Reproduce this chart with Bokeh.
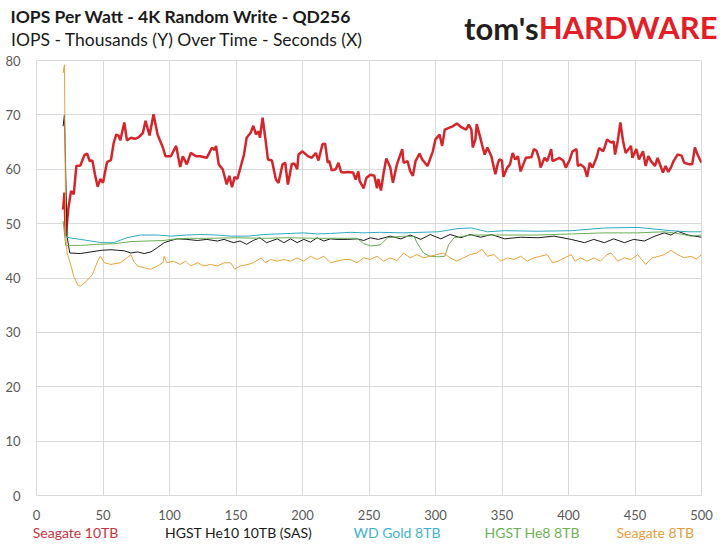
from bokeh.plotting import figure
from bokeh.layouts import column
from bokeh.models import Label, Range1d, FixedTicker
from bokeh.embed import file_html
from bokeh.resources import INLINE

# --- data (seconds, IOPS thousands) ---
seagate10_t = [20, 21, 22, 24, 26, 28, 30, 33, 36, 38, 40, 42, 44, 46, 48, 50, 53, 56, 58, 60,
               62, 63, 66, 68, 71, 74, 77, 80, 82, 85, 88, 91, 95, 97, 101, 105, 108, 110, 113, 116,
               120, 123, 128, 132, 134, 135, 137, 140, 143, 145, 147, 149, 151, 155, 156, 158, 161, 163, 165, 167,
               168, 170, 172, 174, 177, 180, 182, 185, 187, 189, 192, 194, 196, 197, 200, 204, 207, 210, 212, 215,
               217, 219, 220, 222, 225, 227, 229, 231, 234, 238, 240, 242, 243, 246, 248, 251, 254, 256, 257, 259,
               261, 263, 266, 268, 271, 275, 276, 279, 281, 283, 285, 288, 290, 294, 298, 300, 303, 305, 307, 310,
               313, 316, 319, 323, 325, 327, 328, 330, 331, 334, 335, 337, 339, 342, 345, 347, 348, 350, 351, 354,
               356, 358, 360, 362, 364, 366, 368, 372, 374, 376, 378, 379, 382, 384, 387, 388, 391, 393, 396, 398,
               401, 403, 406, 407, 409, 412, 414, 416, 418, 421, 423, 426, 427, 429, 432, 434, 435, 437, 439, 441,
               443, 444, 447, 448, 451, 453, 456, 458, 460, 462, 465, 467, 471, 473, 475, 477, 479, 482, 485, 487,
               491, 493, 495, 497, 500]
seagate10_v = [52.6, 55.7, 47.7, 52.9, 56.0, 55.4, 60.6, 60.7, 62.6, 62.9, 61.5, 61.6, 59.0, 56.8, 58.2, 57.5, 61.3, 61.7, 64.8, 66.4,
               66.1, 65.3, 68.6, 65.3, 65.8, 65.6, 65.9, 66.7, 68.9, 66.2, 70.1, 66.4, 64.0, 62.4, 62.4, 64.3, 60.4, 62.4, 60.9, 63.0,
               62.4, 62.4, 62.1, 64.0, 63.5, 64.3, 60.9, 60.0, 57.2, 58.8, 56.7, 58.6, 58.2, 61.8, 62.7, 65.8, 66.7, 68.0, 66.4, 67.0,
               65.8, 69.5, 65.8, 61.8, 61.6, 58.1, 57.5, 60.9, 61.2, 57.2, 61.0, 61.0, 60.0, 62.7, 63.3, 62.4, 62.1, 63.0, 61.6, 64.6,
               64.7, 61.2, 61.6, 59.8, 60.0, 61.2, 59.5, 59.4, 59.5, 59.4, 58.1, 59.6, 57.8, 56.5, 58.4, 59.0, 58.8, 56.5, 58.2, 56.1,
               59.3, 62.0, 60.3, 57.5, 60.9, 63.7, 61.2, 61.5, 59.6, 58.8, 61.5, 62.9, 61.8, 60.6, 63.3, 65.5, 66.4, 64.3, 67.3, 67.6,
               67.9, 68.4, 67.8, 67.3, 68.2, 67.3, 64.0, 65.5, 68.3, 65.5, 64.5, 62.7, 64.0, 62.4, 59.1, 61.2, 61.8, 61.6, 58.6, 60.3,
               60.9, 63.0, 61.8, 62.4, 59.6, 60.9, 62.1, 62.2, 63.7, 63.4, 61.8, 60.3, 62.1, 61.5, 63.7, 61.5, 61.8, 62.1, 61.6, 60.3,
               61.8, 63.3, 63.7, 60.6, 60.9, 60.3, 58.6, 61.2, 60.3, 62.1, 63.9, 63.3, 63.9, 65.5, 64.9, 65.1, 62.7, 65.2, 68.6, 65.2,
               63.0, 63.3, 64.3, 62.1, 63.7, 61.8, 63.3, 60.6, 62.4, 61.5, 60.6, 62.1, 59.4, 60.6, 59.5, 60.3, 61.5, 62.7, 62.5, 61.2,
               60.9, 60.9, 64.0, 62.7, 61.2]

he10_t = [20, 21, 23, 25, 33, 41, 49, 56, 61, 66, 71, 76, 81, 86, 91, 96, 101, 106, 113, 121,
          128, 136, 141, 148, 153, 158, 163, 168, 173, 181, 186, 191, 196, 201, 206, 211, 216, 221, 226, 234,
          241, 246, 251, 257, 266, 274, 281, 289, 296, 304, 311, 319, 326, 334, 342, 352, 364, 377, 389, 402,
          412, 419, 427, 434, 442, 449, 457, 465, 472, 477, 482, 490, 500]
he10_v = [67.9, 70.0, 47.7, 44.6, 44.5, 44.8, 45.1, 45.2, 45.1, 45.0, 44.6, 44.8, 44.5, 44.8, 45.6, 46.5, 46.9, 47.2, 47.1, 46.9,
          47.1, 46.8, 47.1, 46.5, 46.8, 46.2, 46.9, 47.4, 46.5, 47.2, 46.5, 47.2, 46.5, 47.1, 46.6, 47.4, 46.8, 47.2, 47.1, 47.1,
          47.2, 46.9, 47.4, 47.1, 47.7, 47.2, 47.9, 47.1, 48.0, 47.2, 48.0, 47.4, 48.0, 47.5, 48.0, 47.2, 47.5, 47.4, 47.7, 47.1,
          46.5, 47.1, 46.5, 47.2, 46.5, 47.1, 46.8, 47.7, 48.3, 47.9, 48.6, 47.9, 47.5]

wdgold_t = [22, 33, 41, 49, 58, 68, 78, 91, 101, 113, 123, 136, 146, 159, 171, 181, 191, 201, 211, 221,
            236, 246, 258, 276, 302, 317, 327, 339, 352, 377, 402, 427, 452, 465, 477, 490, 500]
wdgold_v = [47.5, 47.1, 46.8, 46.5, 46.5, 47.4, 47.9, 47.9, 47.7, 47.9, 48.0, 47.9, 47.7, 47.7, 48.0, 48.1, 48.2, 48.3, 48.1, 48.2,
            48.4, 48.3, 48.4, 48.3, 48.5, 49.1, 49.2, 48.5, 48.7, 48.6, 48.7, 49.2, 49.3, 49.0, 48.7, 48.5, 48.5]

he8_t = [20, 22, 33, 47, 58, 71, 83, 96, 101, 115, 130, 150, 170, 190, 210, 230, 241, 246, 251, 256,
         259, 264, 276, 284, 286, 291, 296, 302, 307, 310, 314, 327, 352, 377, 402, 427, 452, 472, 482, 492,
         500]
he8_v = [50.5, 46.0, 46.0, 46.2, 46.3, 46.7, 46.8, 46.9, 47.1, 47.3, 47.3, 47.4, 47.3, 47.4, 47.3, 47.3, 47.3, 46.3, 45.9, 46.0,
         46.2, 47.4, 47.7, 47.6, 46.5, 44.6, 44.0, 43.9, 44.0, 46.2, 47.4, 47.9, 47.9, 47.9, 48.1, 48.3, 48.3, 48.5, 48.2, 47.7,
         47.9]

seagate8_t = [20, 21, 22, 23, 26, 28, 31, 33, 37, 42, 46, 48, 51, 56, 63, 68, 71, 73, 76, 81,
              86, 91, 95, 96, 98, 103, 108, 112, 116, 121, 126, 131, 136, 141, 146, 149, 153, 159, 163, 169,
              172, 176, 181, 186, 191, 196, 201, 206, 211, 216, 221, 226, 231, 236, 241, 246, 251, 256, 261, 266,
              271, 276, 281, 286, 291, 296, 301, 306, 311, 316, 321, 326, 331, 335, 339, 344, 349, 354, 359, 364,
              369, 374, 379, 384, 388, 392, 397, 402, 405, 409, 414, 419, 424, 429, 432, 437, 442, 447, 452, 458,
              463, 468, 472, 477, 482, 487, 492, 496, 500]
seagate8_v = [77.7, 79.2, 47.7, 44.6, 42.2, 40.3, 38.7, 38.5, 39.3, 40.6, 43.1, 44.0, 42.8, 42.5, 42.8, 43.7, 44.3, 43.1, 42.2, 41.9,
              41.6, 42.2, 42.8, 44.0, 42.8, 43.1, 42.5, 43.1, 42.2, 42.8, 42.2, 42.5, 42.2, 42.8, 42.8, 41.6, 42.2, 42.5, 42.8, 43.7,
              42.8, 43.4, 43.1, 43.4, 43.1, 43.7, 43.1, 44.0, 43.4, 44.0, 42.8, 43.1, 43.4, 43.4, 42.8, 43.7, 43.4, 44.0, 43.1, 43.7,
              43.2, 44.6, 43.7, 44.3, 43.7, 44.0, 44.3, 44.6, 43.7, 43.1, 43.7, 44.3, 44.6, 45.3, 44.0, 44.3, 43.1, 43.7, 43.4, 44.0,
              43.1, 43.7, 44.0, 44.3, 42.8, 43.1, 43.7, 44.3, 43.1, 43.7, 43.1, 43.7, 43.1, 44.3, 44.6, 43.1, 43.7, 43.4, 44.3, 42.5,
              43.7, 44.0, 44.3, 45.1, 44.3, 43.7, 44.0, 43.5, 44.3]

x_ticks = [0, 50, 100, 150, 200, 250, 300, 350, 400, 450, 500]
y_ticks = [0, 10, 20, 30, 40, 50, 60, 70, 80]

series = [
    ("Seagate 10TB", seagate10_t, seagate10_v, "#d4252b", 2.5, "#c8333b"),
    ("HGST He10 10TB (SAS)", he10_t, he10_v, "#1a1a1a", 1.0, "#1a1a1a"),
    ("WD Gold 8TB", wdgold_t, wdgold_v, "#2fa9c3", 1.0, "#3fb2d3"),
    ("HGST He8 8TB", he8_t, he8_v, "#6bae55", 1.0, "#6cb255"),
    ("Seagate 8TB", seagate8_t, seagate8_v, "#e9a23b", 1.0, "#e79c3c"),
]

FONT = "Lato"
W = 728


def blank(height):
    """A figure with no axes whose data units are pixels (y grows downwards)."""
    f = figure(width=W, height=height, output_backend="svg", toolbar_location=None, title=None,
               x_range=Range1d(0, W), y_range=Range1d(height, 0),
               x_axis_type=None, y_axis_type=None, min_border=0, frame_align=False)
    f.outline_line_color = None
    f.background_fill_color = "white"
    f.border_fill_color = "white"
    return f


def text(fig, x, y, s, size, color, bold=False, align="left"):
    fig.add_layout(Label(x=x, y=y, text=s, text_font=FONT, text_font_size=f"{size}px",
                         text_font_style="bold" if bold else "normal", text_color=color,
                         text_align=align, text_baseline="middle"))


# header: title, subtitle and logo
head = blank(52)
text(head, 10, 15.9, "IOPS Per Watt - 4K Random Write - QD256", 17.5, "#1a1a1a", bold=True)
text(head, 10.5, 38.9, "IOPS - Thousands (Y) Over Time - Seconds (X)", 17.5, "#1a1a1a")
text(head, 538, 27.5, "tom's", 31, "#231f20", bold=True, align="right")
text(head, 717, 26.5, "HARDWARE", 31, "#e31e26", bold=True, align="right")

# main chart
p = figure(frame_width=665, frame_height=435, output_backend="svg", toolbar_location=None, title=None,
           x_range=Range1d(0, 500), y_range=Range1d(0, 80), frame_align=False,
           min_border_left=36, min_border_right=27, min_border_top=8, min_border_bottom=29)
p.background_fill_color = "white"
p.border_fill_color = "white"
p.outline_line_color = "#d9d9d9"

for name, t, v, color, lw, _ in series:
    p.line(t, v, line_color=color, line_width=lw)

p.xaxis.ticker = FixedTicker(ticks=x_ticks)
p.yaxis.ticker = FixedTicker(ticks=y_ticks)
for ax in (p.xaxis, p.yaxis):
    ax.axis_line_color = None
    ax.major_tick_line_color = None
    ax.minor_tick_line_color = None
    ax.major_tick_out = 0
    ax.major_tick_in = 0
    ax.minor_tick_out = 0
    ax.major_label_text_font = FONT
    ax.major_label_text_font_size = "13px"
    ax.major_label_text_color = "#595959"
p.xaxis.major_label_standoff = 14
p.yaxis.major_label_standoff = 16
p.grid.grid_line_color = "#d9d9d9"
p.grid.grid_line_width = 1

# footer: legend as coloured text
foot = blank(23)
legend_x = [32.3, 164.5, 353, 484, 616]
for lx, (name, _, _, _, _, tcolor) in zip(legend_x, series):
    text(foot, lx, 7.9, name, 14, tcolor)

page = column(head, p, foot, spacing=0)
open("out.html", "w").write(file_html(page, INLINE))
